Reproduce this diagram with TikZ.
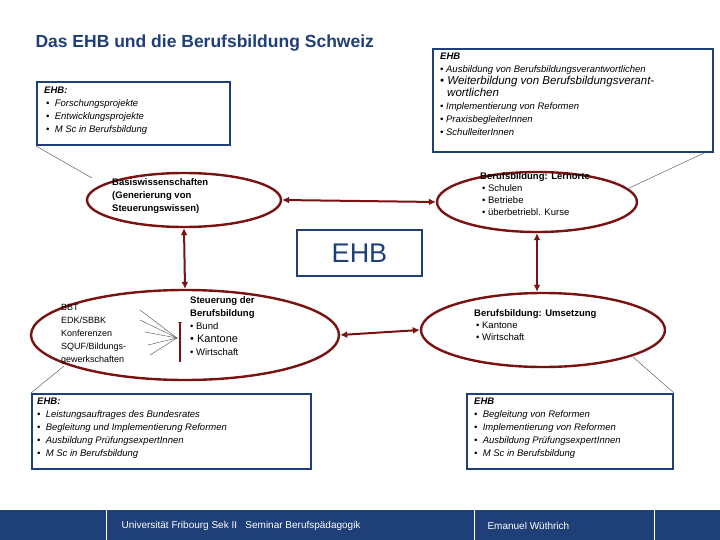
\documentclass[tikz,border=0pt]{standalone}
\usepackage{fontspec}
\setmainfont{Liberation Sans}
\usetikzlibrary{shapes.geometric,arrows.meta}
\definecolor{navy}{HTML}{1F3F78}
\definecolor{dred}{HTML}{7A1212}
\tikzset{
 ell/.style={ellipse,draw=dred,line width=2.4pt,inner sep=0pt},
 infobox/.style={draw=navy,line width=2pt,fill=white},
 boxtxt/.style={anchor=north west,align=left,font=\fontsize{9.5}{13}\selectfont\itshape,inner sep=0pt},
 elltxt/.style={anchor=north west,align=left,font=\fontsize{9.5}{13}\selectfont,inner sep=0pt,text=black},
 biarrow/.style={{Latex[length=7pt,width=7pt]}-{Latex[length=7pt,width=7pt]},draw=dred,line width=2pt},
 thin/.style={draw=black!70,line width=0.4pt},
 foot/.style={text=white,font=\fontsize{10}{12}\selectfont,anchor=west}
}
\begin{document}
\begin{tikzpicture}[x=1pt,y=-1pt]
\useasboundingbox[fill=white] (0,0) rectangle (720,540);
% title
\node[anchor=west,text=navy,font=\fontsize{17.5}{20}\selectfont\bfseries] (title) at (32,43) {Das EHB und die Berufsbildung Schweiz};
% ellipses
\node[ell,minimum width=194,minimum height=54] (e1) at (184,200) {};
\node[ell,minimum width=200,minimum height=60] (e2) at (537,202) {};
\node[ell,minimum width=308,minimum height=90] (e3) at (185,335) {};
\node[ell,minimum width=244,minimum height=74] (e4) at (543,330) {};
% EHB box
\node[infobox,minimum width=125,minimum height=46,text=navy,font=\fontsize{27}{30}\selectfont] (ehb) at (359.5,253) {EHB};
% arrows
\draw[biarrow] (e1.east) -- (e2.west);
\draw[biarrow] (e1.south) -- (e3.north);
\draw[biarrow] (e2.south) -- (e2.south |- e4.north);
\draw[biarrow] (e3.east) -- (e4.west);
% ellipse texts
\node[elltxt,font=\fontsize{9.5}{13}\selectfont\bfseries] (t1) at (112,178) {Basiswissenschaften\\(Generierung von\\Steuerungswissen)};
\node[elltxt] (t2) at (480,172) {\textbf{Berufsbildung: Lernorte}\\[-1pt]
\hspace*{2pt}\textbullet\ Schulen\\[-1pt]\hspace*{2pt}\textbullet\ Betriebe\\[-1pt]\hspace*{2pt}\textbullet\ überbetriebl. Kurse};
\node[elltxt,font=\fontsize{9}{13}\selectfont] (t3) at (61,304) {BBT\\EDK/SBBK\\Konferenzen\\SQUF/Bildungs-\\gewerkschaften};
\node[elltxt] (t4) at (190,296) {\textbf{Steuerung der}\\\textbf{Berufsbildung}\\\textbullet\ Bund\\{\fontsize{11}{13}\selectfont\textbullet\ Kantone}\\\textbullet\ Wirtschaft};
\node[elltxt] (t5) at (474,309) {\textbf{Berufsbildung: Umsetzung}\\[-1pt]
\hspace*{2pt}\textbullet\ Kantone\\[-1pt]\hspace*{2pt}\textbullet\ Wirtschaft};
% fan lines and bracket
\coordinate (fp) at (177,338);
\coordinate (f1) at (140,310);
\coordinate (f2) at (140,320);
\coordinate (f3) at (145,332);
\coordinate (f4) at (148,345);
\coordinate (f5) at (150,355);
\foreach \f in {f1,f2,f3,f4,f5} \draw[thin] (\f) -- (fp);
\coordinate (b1) at (180,322);
\coordinate (b2) at (180,362);
\draw[dred,line width=1.2pt,{Latex[length=3pt,width=4pt,reversed]}-] (b1) -- (b2);
% info boxes
\node[infobox,anchor=north west,minimum width=193,minimum height=63] (bx1) at (36,81) {};
\node[boxtxt] (bx1t) at (44,87) {\textbf{EHB:}\\\hspace*{2pt}\textbullet\ \ Forschungsprojekte\\\hspace*{2pt}\textbullet\ \ Entwicklungsprojekte\\\hspace*{2pt}\textbullet\ \ M Sc in Berufsbildung};
\node[infobox,anchor=north west,minimum width=280,minimum height=103] (bx2) at (432,48) {};
\node[boxtxt] (bx2t) at (440,53) {\textbf{EHB}\\\textbullet\ Ausbildung von Berufsbildungsverantwortlichen\\[-1pt]
{\fontsize{11.5}{13}\selectfont\textbullet\ Weiterbildung von Berufsbildungsverant-}\\[-1pt]
{\fontsize{11.5}{13}\selectfont\hspace*{7pt}wortlichen}\\
\textbullet\ Implementierung von Reformen\\\textbullet\ PraxisbegleiterInnen\\\textbullet\ SchulleiterInnen};
\node[infobox,anchor=north west,minimum width=279,minimum height=75] (bx3) at (31,393) {};
\node[boxtxt] (bx3t) at (37,398) {\textbf{EHB:}\\\textbullet\ \ Leistungsauftrages des Bundesrates\\\textbullet\ \ Begleitung und Implementierung Reformen\\\textbullet\ \ Ausbildung PrüfungsexpertInnen\\\textbullet\ \ M Sc in Berufsbildung};
\node[infobox,anchor=north west,minimum width=206,minimum height=75] (bx4) at (466,393) {};
\node[boxtxt] (bx4t) at (474,398) {\textbf{EHB}\\\textbullet\ \ Begleitung von Reformen\\\textbullet\ \ Implementierung von Reformen\\\textbullet\ \ Ausbildung PrüfungsexpertInnen\\\textbullet\ \ M Sc in Berufsbildung};
% callout lines
\coordinate (c1) at (92,178);
\draw[thin] (bx1.south west) -- (c1);
\coordinate (c2) at (625,190);
\draw[thin] ([xshift=-10pt]bx2.south east) -- (c2);
\coordinate (c3) at (64,366);
\draw[thin] (c3) -- (bx3.north west);
\coordinate (c4) at (633,357);
\draw[thin] (c4) -- (bx4.north east);
% footer
\fill[navy] (0,510) rectangle (720,540);
\draw[white,line width=0.6pt] (106,510) -- (106,540) (474,510) -- (474,540) (654,510) -- (654,540);
\node[foot] (f1t) at (118,526) {Universität Fribourg Sek II \ \ Seminar Berufspädagogik};
\node[foot] (f2t) at (484,526) {Emanuel Wüthrich};
\end{tikzpicture}
\end{document}
